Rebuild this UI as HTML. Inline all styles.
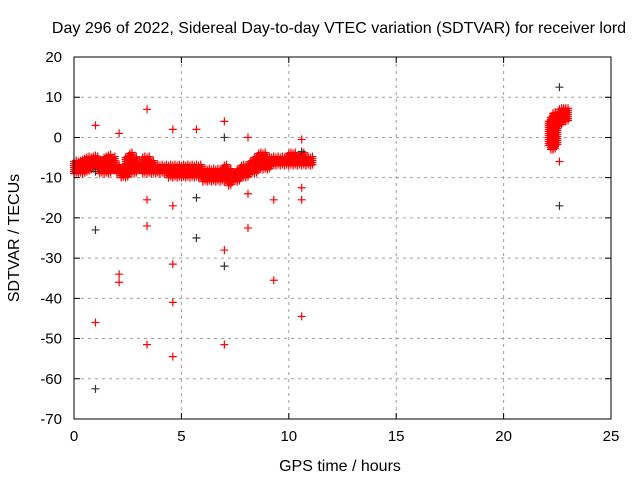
<!DOCTYPE html>
<html><head><meta charset="utf-8"><style>
body{margin:0;background:#fff}
svg text{font-family:"Liberation Sans",sans-serif;font-size:15px;fill:#000}
</style></head><body>
<svg id="chart" width="640" height="480" xmlns="http://www.w3.org/2000/svg">
<text x="339" y="33" text-anchor="middle" style="font-size:16px">Day 296 of 2022, Sidereal Day-to-day VTEC variation (SDTVAR) for receiver lord</text>
<text x="340" y="471" text-anchor="middle" style="font-size:16px">GPS time / hours</text>
<text transform="translate(19,238) rotate(-90)" text-anchor="middle" style="font-size:16px">SDTVAR / TECUs</text>
<g id="grid"></g>
<g id="axes"></g>
<g id="marks"></g>
<rect x="74" y="57" width="537" height="362" fill="none" stroke="#000" stroke-width="1"/>
</svg>
<script>
const xTicks=[0,5,10,15,20,25];
const yTicks=[20,10,0,-10,-20,-30,-40,-50,-60,-70];
// dense band: hour, low, high
const bandHours=[0.0,0.2,0.4,0.6,0.8,1.0,1.2,1.4,1.6,1.8,2.0,2.2,2.4,2.6,2.8,3.0,3.2,3.4,3.6,3.8,4.0,4.2,4.4,4.6,4.8,5.0,5.2,5.4,5.6,5.8,6.0,6.2,6.4,6.6,6.8,7.0,7.2,7.4,7.6,7.8,8.0,8.2,8.4,8.6,8.8,9.0,9.2,9.4,9.6,9.8,10.0,10.2,10.4,10.6,10.8,11.0,22.1,22.2,22.3,22.4,22.6,22.7,22.8,22.9];
const bandLow=[-9,-9,-9,-8.5,-8,-8,-9,-9,-9,-8,-9,-10,-10,-9,-9,-8,-9,-9,-9,-9,-9,-9,-10,-10,-10,-10,-10,-10,-10,-10,-11,-11,-11,-11,-11,-11,-12,-11,-11,-10,-10,-9,-9,-8,-8,-8,-7,-7,-7,-7,-7,-7,-7,-7,-7,-7,-2,-3,-3,-2,3,4,4,4];
const bandHigh=[-6,-6,-5.5,-5,-5,-5,-6,-5,-4.5,-5,-7,-8,-5,-4,-5,-7,-5,-5,-6,-7,-7,-7,-7,-7,-7,-7,-7,-7,-7,-7,-8,-8,-8,-8,-8,-7,-8,-9,-8,-7,-7,-6,-5,-4,-4,-5,-5,-5,-5,-5,-4,-4,-5,-4,-5,-5,4,5,6,5,7,7,7,7];
const redX=[1,1,1,2.1,2.1,2.1,3.4,3.4,3.4,3.4,4.6,4.6,4.6,4.6,4.6,5.7,7,7,7,8.1,8.1,8.1,9.3,9.3,10.6,10.6,10.6,10.6,22.6];
const redY=[3,-4.5,-46,1,-34,-36,7,-15.5,-22,-51.5,2,-17,-31.5,-41,-54.5,2,4,-28,-51.5,0,-14,-22.5,-15.5,-35.5,-12.5,-15.5,-44.5,-0.5,-6];
const blackX=[1,1,1,5.7,5.7,7,7,22.6,22.6,10.6];
const blackY=[-23,-62.5,-8.5,-15,-25,0,-32,12.5,-17,-3.5];
const X0=74,X1=611,Y0=419,Y1=57,xMin=0,xMax=25,yMin=-70,yMax=20;
const sx=v=>X0+(v-xMin)/(xMax-xMin)*(X1-X0);
const sy=v=>Y0-(v-yMin)/(yMax-yMin)*(Y0-Y1);
const NS="http://www.w3.org/2000/svg";
function mk(t,a,p){const e=document.createElementNS(NS,t);for(const k in a)e.setAttribute(k,a[k]);p.appendChild(e);return e;}
const grid=document.getElementById('grid'),axes=document.getElementById('axes'),marks=document.getElementById('marks');
xTicks.forEach(t=>{const x=sx(t);
 if(t>0&&t<25){const g=mk('line',{x1:x,x2:x,y1:Y1,y2:Y0,stroke:'#a0a0a0','stroke-dasharray':'3,4'},grid);}
 const k=mk('path',{d:`M${x},${Y0}v-6M${x},${Y1}v6`,stroke:'#000'},axes);
 const l=mk('text',{x:x,y:Y0+22,'text-anchor':'middle'},axes);l.textContent=t;});
yTicks.forEach(t=>{const y=sy(t);
 if(t>yMin&&t<yMax){const g=mk('line',{x1:X0,x2:X1,y1:y,y2:y,stroke:'#a0a0a0','stroke-dasharray':'3,4'},grid);}
 const k=mk('path',{d:`M${X0},${y}h6M${X1},${y}h-6`,stroke:'#000'},axes);
 const l=mk('text',{x:X0-12,y:y+5,'text-anchor':'end'},axes);l.textContent=t;});
function cross(h,v,c,name){const x=sx(h),y=sy(v);const p=mk('path',{d:`M${x-4},${y}h8M${x},${y-4}v8`,stroke:c,'stroke-width':1.2},marks);}
bandHours.forEach((h,i)=>{for(let v=bandLow[i];v<=bandHigh[i];v+=0.5){cross(h,v,'#ff0000','band-point');cross(h+0.1,v+0.25,'#ff0000','band-point');}});
redX.forEach((h,i)=>cross(h,redY[i],'#ff0000','outlier-point'));
blackX.forEach((h,i)=>cross(h,blackY[i],'#333333','black-point'));
</script>
</body></html>
